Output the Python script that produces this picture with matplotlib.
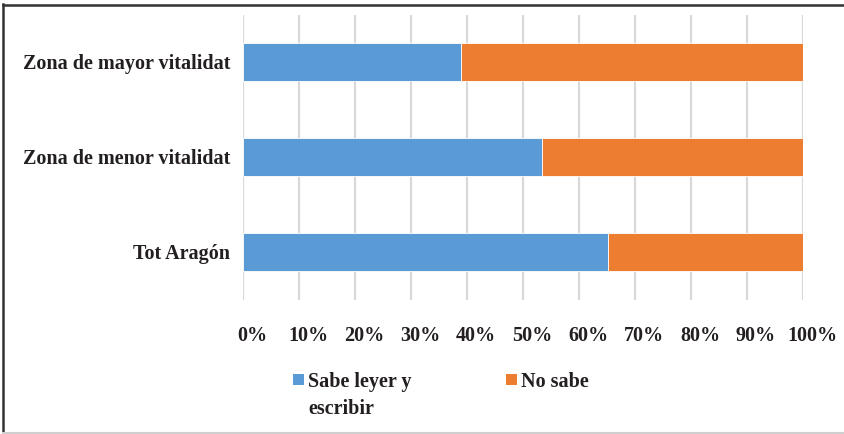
import matplotlib
matplotlib.use("Agg")
import matplotlib.pyplot as plt
from matplotlib.patches import Rectangle
from matplotlib.lines import Line2D
import matplotlib.transforms as mtransforms

plt.rcParams['font.family'] = ['Liberation Serif', 'DejaVu Serif']

# Data (bottom to top)
categories = ["Tot Aragón", "Zona de menor vitalidat", "Zona de mayor vitalidat"]
sabe = [65.2, 53.4, 38.9]
no_sabe = [100 - v for v in sabe]
series_names = ["Sabe leyer y\nescribir", "No sabe"]
colors = ["#5B9BD5", "#ED7D31"]
ticks = [0, 10, 20, 30, 40, 50, 60, 70, 80, 90, 100]
tick_labels = [f"{t}%" for t in ticks]

W, H = 845, 434
FS = 14.5
TXT = "#231F20"
fig = plt.figure(figsize=(W / 100, H / 100), dpi=100)

def fx(px):
    return px / W

def fy(py):
    return 1 - py / H

ax = fig.add_axes([fx(243), fy(299.5), fx(803) - fx(243), fy(14.5) - fy(299.5)])

ypos = list(range(len(categories)))
ax.barh(ypos, sabe, height=0.4, color=colors[0], edgecolor="white", linewidth=0.6, zorder=3)
ax.barh(ypos, no_sabe, left=sabe, height=0.4, color=colors[1], edgecolor="white", linewidth=0.6, zorder=3)

ax.set_xlim(0, 100)
ax.set_ylim(-0.5, len(categories) - 0.5)
ax.set_xticks(ticks)
ax.set_xticklabels(tick_labels, fontsize=FS, fontweight="bold", color=TXT)
ax.set_yticks(ypos)
ax.set_yticklabels(categories, fontsize=FS, fontweight="bold", color=TXT)
ax.tick_params(axis="both", length=0)
ax.tick_params(axis="x", pad=19)
ax.tick_params(axis="y", pad=9)
offset = mtransforms.ScaledTranslation(9 / 100, 0, fig.dpi_scale_trans)
for lbl in ax.get_xticklabels():
    lbl.set_transform(lbl.get_transform() + offset)

ax.grid(axis="x", color="#D9D9D9", linewidth=1.6, zorder=0)
ax.grid(axis="y", visible=False)
for s in ax.spines.values():
    s.set_visible(False)

# Legend: square beside the first line of each label
legend_items = [(293, series_names[0], colors[0]), (506, series_names[1], colors[1])]
for x0, name, col in legend_items:
    fig.patches.append(Rectangle((fx(x0), fy(385)), fx(11), 11 / H, transform=fig.transFigure,
                                 facecolor=col, edgecolor="none"))
    fig.text(fx(x0 + 15), fy(372), name, fontsize=FS, fontweight="bold", color=TXT,
             va="top", ha="left", linespacing=1.45)

# Outer frame
fig.add_artist(Line2D([fx(3.5), fx(3.5)], [fy(4), fy(433)], transform=fig.transFigure,
                      color="#333333", linewidth=1.8))
fig.add_artist(Line2D([fx(3), 1], [fy(5), fy(5)], transform=fig.transFigure,
                      color="#333333", linewidth=1.8))
fig.add_artist(Line2D([fx(3), 1], [fy(432.5), fy(432.5)], transform=fig.transFigure,
                      color="#CFCFCF", linewidth=1.5))

fig.savefig("out.png", dpi=100)
